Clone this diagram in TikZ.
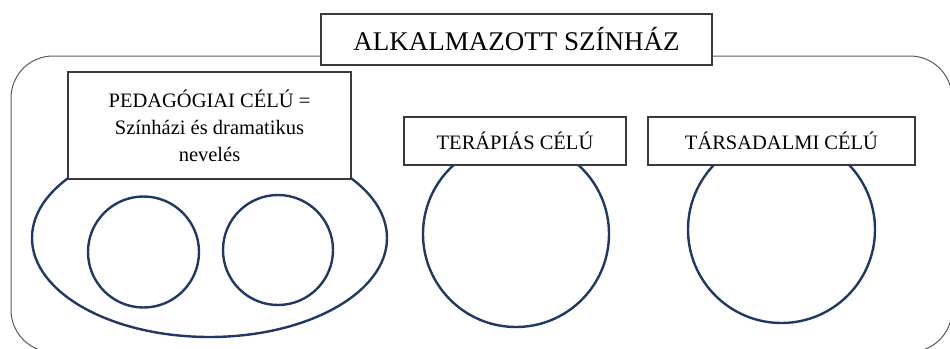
\documentclass[tikz,border=0pt]{standalone}
\usepackage{fontspec}
\setmainfont{Liberation Serif}
\usetikzlibrary{shapes.geometric}
\definecolor{celkek}{HTML}{1F3864}
\definecolor{keretszurke}{HTML}{3A3A3A}
\definecolor{hatterszurke}{HTML}{5A5A5A}
\tikzset{
  cimke/.style={draw=keretszurke, line width=1.3pt, fill=white, inner sep=0pt, align=center,
    font=\fontsize{20.5}{27}\selectfont},
  kor/.style={draw=celkek, line width=2.4pt, circle, inner sep=0pt},
}
\begin{document}
\begin{tikzpicture}[x=1pt, y=-1pt]
  \useasboundingbox (0,0) rectangle (950,348);
  \begin{scope}
    \clip (0,0) rectangle (950,348);
    \draw [hatterszurke, line width=1pt, rounded corners=42pt] (11,56) rectangle (952,352);
  \end{scope}
  \node [kor, ellipse, minimum width=355pt, minimum height=198pt] (pedell) at (209.5,238) {};
  \node [kor, minimum size=111pt] (pedkor1) at (143.5,252) {};
  \node [kor, minimum size=110pt] (pedkor2) at (278,250) {};
  \node [kor, minimum size=186pt] (terkor) at (516,234) {};
  \node [kor, minimum size=187pt] (tarkor) at (781.5,229.5) {};
  \node [cimke, minimum width=391pt, minimum height=51pt, font=\fontsize{27}{32}\selectfont]
    (cim) at (516.5,39.5) {ALKALMAZOTT SZÍNHÁZ};
  \node [cimke, minimum width=283pt, minimum height=107pt] (pedbox) at (209.5,125.5)
    {PEDAGÓGIAI CÉLÚ =\\Színházi és dramatikus\\nevelés};
  \node [cimke, minimum width=222pt, minimum height=48pt] (terbox) at (515,141)
    {\raisebox{-3pt}{TERÁPIÁS CÉLÚ}};
  \node [cimke, minimum width=267pt, minimum height=48pt] (tarbox) at (781.5,141)
    {\raisebox{-3pt}{TÁRSADALMI CÉLÚ}};
\end{tikzpicture}
\end{document}
